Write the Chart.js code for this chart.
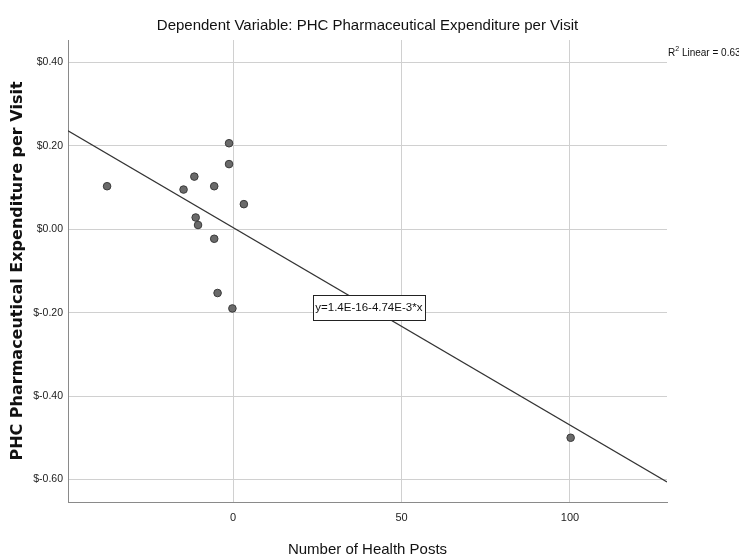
<!DOCTYPE html>
<html>
<head>
<meta charset="utf-8">
<script src="https://cdn.jsdelivr.net/npm/chart.js@4"></script>
<style>
  html, body { margin: 0; padding: 0; background: #fff; }
  #wrap { width: 739px; height: 559px; }
</style>
</head>
<body>
<div id="wrap"><canvas id="chart" width="739" height="559"></canvas></div>
<script>
const SANS = "'Liberation Sans', Arial, sans-serif";

// scatter values
const HEALTH_POSTS = [-37.4, -14.7, -11.5, -5.6, -1.2, -1.2, 3.2, -11.1, -10.4, -5.6, -4.6, -0.2, 100.2];
const EXPENDITURE  = [0.103, 0.095, 0.126, 0.103, 0.206, 0.156, 0.060, 0.028, 0.010, -0.023, -0.153, -0.190, -0.500];

// fit line ends, at the axis limits
const FIT_X = [-49, 128.8];
const FIT_Y = [0.236, -0.606];

const X_TICKS = [0, 50, 100];
const Y_TICKS = [0.4, 0.2, 0, -0.2, -0.4, -0.6];
const Y_LABELS = ["$0.40", "$0.20", "$0.00", "$-0.20", "$-0.40", "$-0.60"];

const TITLE = "Dependent Variable: PHC Pharmaceutical Expenditure per Visit";
const EQUATION = "y=1.4E-16-4.74E-3*x";
const R2_TEXT = "Linear = 0.63";

const scatterPoints = HEALTH_POSTS.map((x, i) => ({ x, y: EXPENDITURE[i] }));
const fitPoints = FIT_X.map((x, i) => ({ x, y: FIT_Y[i] }));

const annotations = {
    id: 'annotations',
    afterDraw(chart) {
        const { ctx, scales: { x, y }, chartArea } = chart;
        ctx.save();

        // title, centred over the plot
        ctx.fillStyle = '#111';
        ctx.font = `15px ${SANS}`;
        ctx.textAlign = 'center';
        ctx.textBaseline = 'middle';
        ctx.fillText(TITLE, (chartArea.left + chartArea.right) / 2, 26);

        // equation box on the fit line
        ctx.font = `11.5px ${SANS}`;
        const w = Math.round(ctx.measureText(EQUATION).width + 5);
        const h = 25;
        const cx = x.getPixelForValue(40.3);
        const cy = y.getPixelForValue(-0.187);
        const bx = Math.round(cx - w / 2) + 0.5;
        const by = Math.round(cy - h / 2) + 0.5;
        ctx.fillStyle = '#fff';
        ctx.fillRect(bx, by, w, h);
        ctx.strokeStyle = '#222';
        ctx.lineWidth = 1;
        ctx.strokeRect(bx, by, w, h);
        ctx.fillStyle = '#111';
        ctx.fillText(EQUATION, cx, cy + 1);

        // R² note, right of the plot
        const rx = chartArea.right + 1;
        const ry = 53;
        ctx.textAlign = 'left';
        ctx.font = `10px ${SANS}`;
        ctx.fillText('R', rx, ry);
        const rw = ctx.measureText('R').width;
        ctx.font = `7px ${SANS}`;
        ctx.fillText('2', rx + rw, ry - 4);
        const sw = ctx.measureText('2').width;
        ctx.font = `10px ${SANS}`;
        ctx.fillText(' ' + R2_TEXT, rx + rw + sw, ry);
        ctx.restore();
    }
};

new Chart(document.getElementById('chart'), {
    type: 'scatter',
    data: {
        datasets: [
            {
                data: scatterPoints,
                pointRadius: 3.8,
                pointBackgroundColor: '#6a6a6a',
                pointBorderColor: '#3a3a3a',
                pointBorderWidth: 1
            },
            {
                type: 'line',
                data: fitPoints,
                borderColor: '#333',
                borderWidth: 1.2,
                pointRadius: 0,
                fill: false
            }
        ]
    },
    options: {
        responsive: false,
        animation: false,
        layout: { padding: { left: 0, right: 72, top: 40, bottom: 0 } },
        plugins: {
            legend: { display: false },
            tooltip: { enabled: false },
            title: { display: false }
        },
        scales: {
            x: {
                type: 'linear',
                min: FIT_X[0],
                max: FIT_X[1],
                afterBuildTicks: s => { s.ticks = X_TICKS.map(value => ({ value })); },
                afterFit: s => { s.height = 57; },
                grid: { color: '#d0d0d0', drawTicks: false },
                border: { color: '#8a8a8a', width: 1 },
                ticks: { color: '#222', padding: 9, font: { family: SANS, size: 11 } },
                title: {
                    display: true,
                    text: 'Number of Health Posts',
                    color: '#111',
                    font: { family: SANS, size: 15 },
                    padding: { top: 0, bottom: 0 }
                }
            },
            y: {
                min: -0.654,
                max: 0.4535,
                afterBuildTicks: s => { s.ticks = Y_TICKS.map(value => ({ value })); },
                afterFit: s => { s.width = 68; },
                grid: { color: '#d0d0d0', drawTicks: false },
                border: { color: '#8a8a8a', width: 1 },
                ticks: {
                    color: '#222',
                    padding: 5,
                    font: { family: SANS, size: 10.5 },
                    callback: v => Y_LABELS[Y_TICKS.findIndex(t => Math.abs(t - v) < 1e-9)]
                },
                title: {
                    display: true,
                    text: 'PHC Pharmaceutical Expenditure per Visit',
                    color: '#111',
                    font: { family: "'DejaVu Sans', sans-serif", size: 16, weight: 'bold' },
                    padding: { top: 8, bottom: 0 }
                }
            }
        }
    },
    plugins: [annotations]
});
</script>
</body>
</html>
